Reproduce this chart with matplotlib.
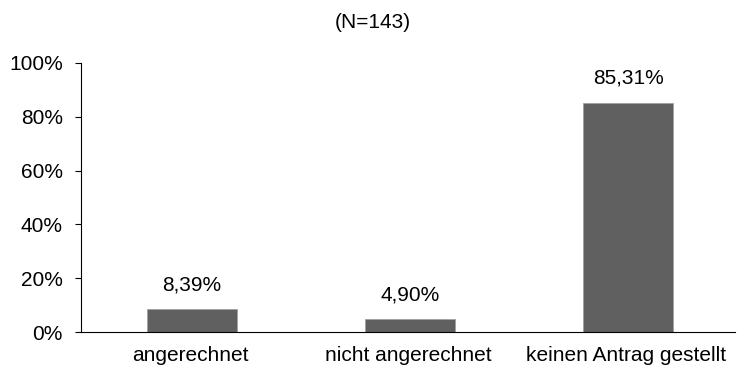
import matplotlib
matplotlib.use("Agg")
import matplotlib.pyplot as plt
from matplotlib.ticker import FuncFormatter

categories = ["angerechnet", "nicht angerechnet", "keinen Antrag gestellt"]
values = [8.39, 4.90, 85.31]
labels = ["8,39%", "4,90%", "85,31%"]
title = "(N=143)"

plt.rcParams['font.family'] = ['Liberation Sans', 'DejaVu Sans']
FS = 15

fig = plt.figure(figsize=(7.38, 3.69), dpi=100)
ax = fig.add_axes([81/738, 37/369, 654/738, 269/369])

x = range(len(categories))
ax.bar([xi + 0.01 for xi in x], values, width=0.41, color='#606060', edgecolor='#a0a0a0', linewidth=0.6)
for xi, v, lab in zip(x, values, labels):
    ax.text(xi + 0.01, v + 5.5, lab, ha='center', va='bottom', fontsize=FS, color='black')

ax.set_xlim(-0.5, 2.5)
ax.set_ylim(0, 100)
ax.set_yticks([0, 20, 40, 60, 80, 100])
ax.yaxis.set_major_formatter(FuncFormatter(lambda v, p: f"{int(v)}%"))
ax.set_xticks(list(x))
ax.set_xticklabels(categories)
ax.tick_params(axis='x', length=0, pad=10, labelsize=FS)
ax.tick_params(axis='y', length=4, width=0.8, pad=9, labelsize=FS)
for s in ['top', 'right']:
    ax.spines[s].set_visible(False)
for s in ['left', 'bottom']:
    ax.spines[s].set_linewidth(0.8)
    ax.spines[s].set_color('black')

fig.text(373/738, 1 - 22/369, title, ha='center', va='center', fontsize=FS)

fig.savefig("out.png", dpi=100)
